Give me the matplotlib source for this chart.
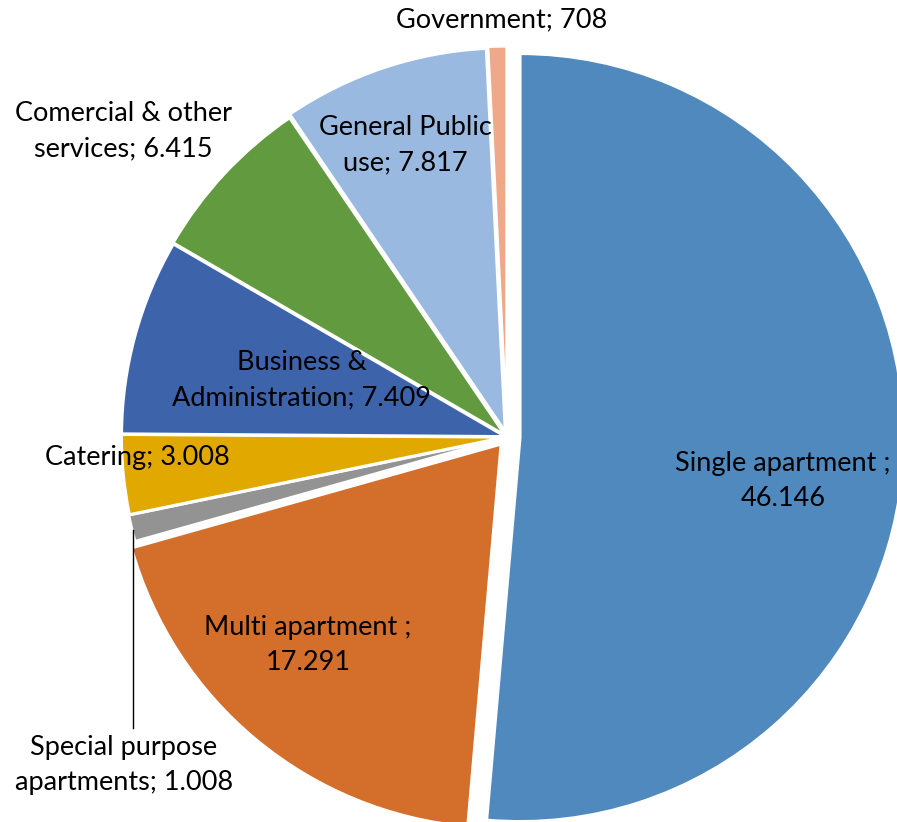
import textwrap
import matplotlib
matplotlib.use("Agg")
import matplotlib.pyplot as plt
from matplotlib.lines import Line2D

categories = ["Single apartment ", "Multi apartment ", "Special purpose apartments",
              "Catering", "Business & Administration", "Comercial & other services",
              "General Public use", "Government"]
values = [46146, 17291, 1008, 3008, 7409, 6415, 7817, 708]
colors = ["#4F89BE", "#D36E2B", "#939393", "#E1A800", "#3D63AB", "#629A3F", "#99B9E0", "#F0A88B"]
explode = [0.034, 0.024, 0.006, 0.004, 0.004, 0.006, 0.014, 0.018]
wrap_widths = [18, 17, 17, 30, 21, 17, 14, 30]
# label centres in pixels (x from left, y from top)
label_pos = [(783, 481), (308, 645), (124, 765), (137, 457), (302, 380),
             (123, 131), (405, 145), (502, 20)]

W, H = 897, 822
plt.rcParams['font.family'] = ['Lato', 'DejaVu Sans']
fig = plt.figure(figsize=(W / 100, H / 100), dpi=100)
ax = fig.add_axes([0, 0, 1, 1])

cx, cy, R = 507, 437, 384
ax.pie(values, colors=colors, explode=explode, startangle=90, counterclock=False,
       radius=1, wedgeprops=dict(edgecolor="white", linewidth=2.2))
ax.set_xlim(-cx / R, (W - cx) / R)
ax.set_ylim(-(H - cy) / R, cy / R)
ax.set_aspect("equal")
ax.axis("off")


def fmt(v):
    return f"{v:,}".replace(",", ".")


for cat, v, w, (px, py) in zip(categories, values, wrap_widths, label_pos):
    txt = textwrap.fill(f"{cat}; {fmt(v)}", width=w, break_long_words=False)
    fig.text(px / W, 1 - py / H, txt, ha="center", va="center", fontsize=19.5,
             color="black", linespacing=1.5)

# leader line for small slice
fig.add_artist(Line2D([133 / W, 133 / W], [1 - 530 / H, 1 - 728 / H],
                      transform=fig.transFigure, color="black", linewidth=1))

fig.savefig("out.png", dpi=100)
